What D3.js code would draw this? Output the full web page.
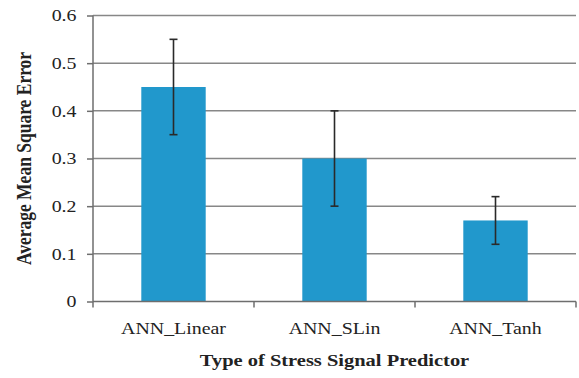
<!DOCTYPE html>
<html><head><meta charset="utf-8">
<script src="https://cdn.jsdelivr.net/npm/d3@7"></script>
<style>body{margin:0;background:#fff}svg{display:block}</style>
</head><body>
<svg id="c" width="579" height="378"></svg>
<script>
const categories = ["ANN_Linear", "ANN_SLin", "ANN_Tanh"];
const values = [0.45, 0.30, 0.17];
const errors = [0.10, 0.10, 0.05];
const yTicks = [0, 0.1, 0.2, 0.3, 0.4, 0.5, 0.6];
const yTitle = "Average Mean Square Error";
const xTitle = "Type of Stress Signal Predictor";

const svg = d3.select("#c");
const m = {l: 93, r: 3, t: 15.5, b: 76.5};
const W = 579, H = 378;
const sx = 1.17; // horizontal glyph stretch seen in the reference
const x = d3.scaleBand().domain(categories).range([m.l, W - m.r]).padding(0);
const y = d3.scaleLinear().domain([0, 0.6]).range([H - m.b, m.t]);
const font = "Liberation Serif";

// gridlines
svg.append("g").selectAll("line").data(yTicks.filter(d => d > 0)).join("line")
  .attr("x1", m.l).attr("x2", W - m.r)
  .attr("y1", d => y(d)).attr("y2", d => y(d))
  .attr("stroke", "#878787").attr("stroke-width", 1.5);

// bars
const bw = x.bandwidth() * 0.4;
svg.append("g").selectAll("rect").data(categories).join("rect")
  .attr("x", (d) => x(d) + x.bandwidth() / 2 - bw / 2)
  .attr("width", bw)
  .attr("y", (d, i) => y(values[i]))
  .attr("height", (d, i) => y(0) - y(values[i]))
  .attr("fill", "#2198CC");

// y axis
const ya = svg.append("g").attr("transform", `translate(${m.l},0)`)
  .call(d3.axisLeft(y).tickValues(yTicks).tickFormat(d => d === 0 ? "0" : d3.format(".1f")(d)).tickSize(6).tickPadding(10));
ya.attr("font-family", font);
ya.select(".domain").attr("stroke", "#6e6e6e").attr("stroke-width", 1.5).attr("d", `M0,${y(0.6)}V${y(0)}`);
ya.selectAll(".tick line").attr("stroke", "#6e6e6e").attr("stroke-width", 1.5);
ya.selectAll(".tick text").attr("font-family", font).attr("font-size", 17).attr("fill", "#222")
  .attr("x", 0).attr("transform", `translate(-16.5,0) scale(${sx},1)`);

// x axis
const xa = svg.append("g").attr("transform", `translate(0,${y(0)})`)
  .call(d3.axisBottom(x).tickSize(0).tickPadding(20));
xa.attr("font-family", font);
xa.select(".domain").attr("stroke", "#6e6e6e").attr("stroke-width", 1.5).attr("d", `M${m.l},0H${W - m.r}`);
xa.selectAll(".tick text").attr("font-family", font).attr("font-size", 17).attr("fill", "#222")
  .attr("transform", `scale(${sx},1)`);
// boundary ticks
const bounds = categories.map(c => x(c)).concat([x(categories[categories.length - 1]) + x.bandwidth()]);
xa.append("g").selectAll("line").data(bounds).join("line")
  .attr("x1", d => d).attr("x2", d => d).attr("y1", 0).attr("y2", 6)
  .attr("stroke", "#6e6e6e").attr("stroke-width", 1.5);

// error bars
const eg = svg.append("g").attr("stroke", "#2a2a2a").attr("stroke-width", 1.6);
categories.forEach((c, i) => {
  const cx = x(c) + x.bandwidth() / 2;
  const lo = y(values[i] - errors[i]), hi = y(values[i] + errors[i]);
  eg.append("line").attr("x1", cx).attr("x2", cx).attr("y1", lo).attr("y2", hi);
  eg.append("line").attr("x1", cx - 4).attr("x2", cx + 4).attr("y1", lo).attr("y2", lo);
  eg.append("line").attr("x1", cx - 4).attr("x2", cx + 4).attr("y1", hi).attr("y2", hi);
});

// titles
svg.append("text").attr("transform", `translate(${(m.l + W - m.r) / 2},366) scale(${sx},1)`)
  .attr("text-anchor", "middle").attr("font-family", font).attr("font-weight", "bold")
  .attr("font-size", 17.5).attr("fill", "#222").text(xTitle);
svg.append("text").attr("transform", `translate(31,${(y(0) + y(0.6)) / 2}) rotate(-90) scale(1,${sx})`)
  .attr("text-anchor", "middle").attr("font-family", font).attr("font-weight", "bold")
  .attr("font-size", 17.5).attr("fill", "#222").text(yTitle);
</script>
</body></html>
